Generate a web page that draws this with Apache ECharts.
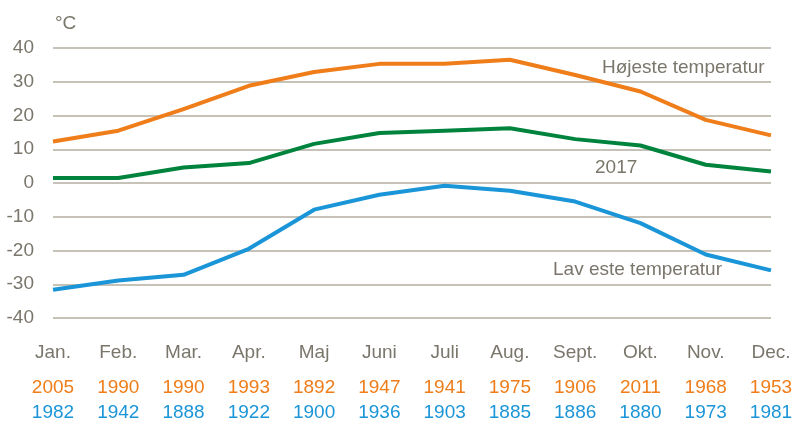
<!DOCTYPE html>
<html>
<head>
<meta charset="utf-8">
<script src="https://cdn.jsdelivr.net/npm/echarts@6/dist/echarts.min.js"></script>
<style>
html,body{margin:0;padding:0;background:#fff}
#c{width:797px;height:424px}
</style>
</head>
<body>
<div id="c"></div>
<script>
// === 資料 ===
const months=['Jan.','Feb.','Mar.','Apr.','Maj','Juni','Juli','Aug.','Sept.','Okt.','Nov.','Dec.'];
const highYears=['2005','1990','1990','1993','1892','1947','1941','1975','1906','2011','1968','1953'];
const lowYears=['1982','1942','1888','1922','1900','1936','1903','1885','1886','1880','1973','1981'];
const highTemp=[12.3,15.5,21.9,28.8,32.9,35.3,35.3,36.5,32.0,27.1,18.7,14.1];
const temp2017=[1.5,1.5,4.6,5.9,11.6,14.8,15.5,16.2,13.0,11.1,5.4,3.4];
const lowTemp=[-31.6,-28.9,-27.2,-19.5,-7.9,-3.5,-0.8,-2.3,-5.5,-11.9,-21.2,-25.9];

// === 樣式 ===
const FONT='"Liberation Sans Narrow","Liberation Sans",sans-serif';
const FS=19;
const GREY='#7a766b';
const C_HIGH='#ef7d1a', C_2017='#00843d', C_LOW='#1a95d8';

function txt(s,x,y){
  return {type:'text',left:x,top:y,style:{text:s,fill:GREY,font:FS+'px '+FONT}};
}

const chart=echarts.init(document.getElementById('c'),null,{renderer:'canvas'});
chart.setOption({
  animation:false,
  textStyle:{fontFamily:FONT},
  grid:{left:53,right:26,top:48,bottom:106},
  title:{text:'°C',left:50,top:9,textStyle:{fontFamily:FONT,fontSize:FS,fontWeight:'normal',color:GREY}},
  xAxis:{
    type:'category',data:months,boundaryGap:false,
    axisLine:{show:false},axisTick:{show:false},splitLine:{show:false},
    axisLabel:{
      margin:13,interval:0,
      formatter:function(v,i){return '{m|'+v+'}\n{h|'+highYears[i]+'}\n{l|'+lowYears[i]+'}';},
      rich:{
        m:{fontFamily:FONT,fontSize:FS,color:GREY,lineHeight:44},
        h:{fontFamily:FONT,fontSize:FS,color:C_HIGH,lineHeight:25},
        l:{fontFamily:FONT,fontSize:FS,color:C_LOW,lineHeight:25}
      }
    }
  },
  yAxis:{
    type:'value',min:-40,max:40,interval:10,
    axisLine:{show:false},axisTick:{show:false},
    axisLabel:{margin:19,fontFamily:FONT,fontSize:FS,color:GREY},
    splitLine:{lineStyle:{color:'#b3aea0',width:1.5}}
  },
  series:[
    {type:'line',data:highTemp,symbol:'none',lineStyle:{color:C_HIGH,width:4}},
    {type:'line',data:temp2017,symbol:'none',lineStyle:{color:C_2017,width:4}},
    {type:'line',data:lowTemp,symbol:'none',lineStyle:{color:C_LOW,width:4}}
  ],
  graphic:[
    txt('Højeste temperatur',602,58),
    txt('2017',595,158),
    txt('Lav este temperatur',553,260)
  ]
});
</script>
</body>
</html>
